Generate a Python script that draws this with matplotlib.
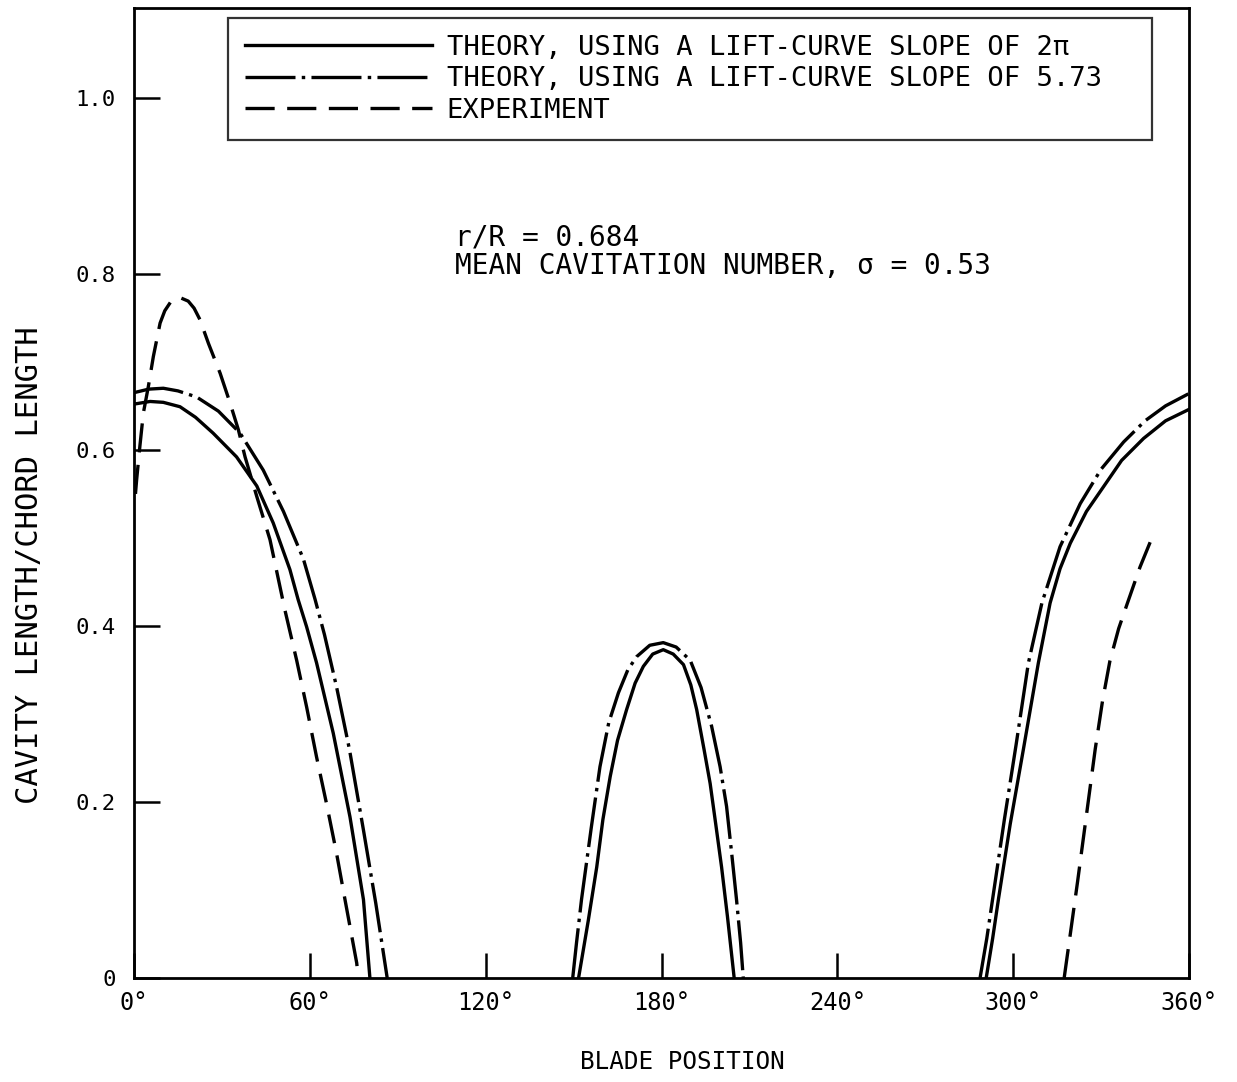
import matplotlib
matplotlib.use("Agg")
import matplotlib.pyplot as plt

# ---------------- data ----------------
# Theory, lift-curve slope 2*pi (solid)
solid_a_deg = [0, 5.5, 10, 15.7, 21, 27, 35, 41.9, 47.5, 53.2, 56, 58.9, 62.3, 68, 73.7, 78.3, 80.5]
solid_a_val = [0.652, 0.655, 0.654, 0.649, 0.637, 0.619, 0.592, 0.559, 0.517, 0.464, 0.43, 0.399, 0.358, 0.278, 0.183, 0.089, 0.0]
solid_b_deg = [151.7, 155, 157.9, 160, 162.5, 165, 168.1, 171, 173.8, 177, 180.6, 184, 187.5, 190, 192, 194.5, 196.6, 198.5, 200.5, 202.5, 204.8]
solid_b_val = [0.0, 0.065, 0.126, 0.18, 0.229, 0.27, 0.305, 0.335, 0.354, 0.368, 0.373, 0.368, 0.356, 0.333, 0.305, 0.26, 0.221, 0.175, 0.126, 0.07, 0.0]
solid_c_deg = [290.8, 293, 295, 299, 303.5, 308.6, 312.6, 316, 319.5, 325, 330.8, 337, 344.5, 352, 360]
solid_c_val = [0.0, 0.045, 0.09, 0.175, 0.26, 0.358, 0.426, 0.465, 0.494, 0.53, 0.558, 0.588, 0.613, 0.633, 0.646]

# Theory, lift-curve slope 5.73 (dash-dot)
dd_a_deg = [0, 5, 10, 15, 21.4, 28.8, 36.2, 44.1, 51, 57.8, 61.8, 65, 69.1, 73.5, 78.3, 82.5, 86.4]
dd_a_val = [0.665, 0.669, 0.67, 0.667, 0.66, 0.644, 0.619, 0.577, 0.53, 0.476, 0.43, 0.39, 0.331, 0.26, 0.168, 0.085, 0.0]
dd_b_deg = [149.7, 151, 152.7, 156, 159, 162, 165.3, 168.5, 171.5, 176, 180.6, 185, 189.8, 193.5, 197.1, 200, 202.2, 204, 205.6, 207, 207.9]
dd_b_val = [0.0, 0.04, 0.089, 0.17, 0.24, 0.29, 0.324, 0.35, 0.365, 0.378, 0.381, 0.376, 0.361, 0.33, 0.286, 0.24, 0.195, 0.14, 0.089, 0.04, 0.0]
dd_c_deg = [288.7, 291, 293, 297, 301, 305.2, 309.8, 316, 322.9, 330, 337.7, 345, 352, 360]
dd_c_val = [0.0, 0.045, 0.09, 0.18, 0.265, 0.358, 0.426, 0.49, 0.539, 0.578, 0.609, 0.633, 0.65, 0.664]

# Experiment (dashed)
exp_a_deg = [0.5, 0.9, 2, 3.2, 4.9, 6.6, 8.9, 10.5, 12.5, 15.7, 18.5, 20.5, 22.5, 25.4, 29.4, 32.8, 35.6, 37.9, 41.9, 46.4, 51.5, 55.5, 58.9, 62.3, 65.7, 69.1, 72, 76, 76.5]
exp_a_val = [0.55, 0.566, 0.604, 0.642, 0.672, 0.706, 0.744, 0.758, 0.768, 0.773, 0.769, 0.761, 0.748, 0.721, 0.687, 0.653, 0.623, 0.592, 0.547, 0.498, 0.418, 0.361, 0.308, 0.251, 0.198, 0.142, 0.089, 0.017, 0.0]
exp_c_deg = [317.4, 319.5, 322, 325, 328, 330.5, 333, 336, 339, 343.3, 347.1]
exp_c_val = [0.0, 0.05, 0.11, 0.185, 0.26, 0.315, 0.36, 0.397, 0.426, 0.467, 0.498]

x_ticks = [0, 60, 120, 180, 240, 300, 360]
x_tick_labels = ["0°", "60°", "120°", "180°", "240°", "300°", "360°"]
y_ticks = [0, 0.2, 0.4, 0.6, 0.8, 1.0]
y_tick_labels = ["0", "0.2", "0.4", "0.6", "0.8", "1.0"]

label_solid = "THEORY, USING A LIFT-CURVE SLOPE OF 2π"
label_dd = "THEORY, USING A LIFT-CURVE SLOPE OF 5.73"
label_exp = "EXPERIMENT"

MONO = "DejaVu Sans Mono"

# ---------------- figure ----------------
plt.rcParams["lines.scale_dashes"] = False
fig = plt.figure(figsize=(12.37, 10.82), dpi=100)
ax = fig.add_axes([134 / 1237, 1 - 978 / 1082, (1189 - 134) / 1237, (978 - 8) / 1082])

lw = 2.4
solid_kw = dict(color="black", lw=lw, linestyle="-")
dd_kw = dict(color="black", lw=lw, linestyle=(0, (36, 4.5, 2.5, 4.5)))
exp_kw = dict(color="black", lw=lw, linestyle=(0, (21, 9)))

ax.plot(solid_a_deg, solid_a_val, label=label_solid, **solid_kw)
ax.plot(solid_b_deg, solid_b_val, **solid_kw)
ax.plot(solid_c_deg, solid_c_val, **solid_kw)
ax.plot(dd_a_deg, dd_a_val, label=label_dd, **dd_kw)
ax.plot(dd_b_deg, dd_b_val, **dd_kw)
ax.plot(dd_c_deg, dd_c_val, **dd_kw)
ax.plot(exp_a_deg, exp_a_val, label=label_exp, **exp_kw)
ax.plot(exp_c_deg, exp_c_val, **exp_kw)

ax.set_xlim(0, 360)
ax.set_ylim(0, 1.102)
for s in ax.spines.values():
    s.set_linewidth(2)

ax.set_xticks(x_ticks)
ax.set_xticklabels(x_tick_labels, fontsize=17, family=MONO)
ax.set_yticks(y_ticks)
ax.set_yticklabels(y_tick_labels, fontsize=16, family=MONO)
ax.tick_params(axis="x", direction="in", length=18, width=1.8, pad=9)
ax.tick_params(axis="y", direction="in", length=19, width=1.8, pad=13)

ax.set_xlabel("BLADE POSITION", fontsize=17.5, family=MONO)
ax.xaxis.set_label_coords((682 - 134) / 1055, -(1050 - 978) / 970)
ax.set_ylabel("CAVITY LENGTH/CHORD LENGTH", fontsize=22, family=MONO)
ax.yaxis.set_label_coords((44 - 134) / 1055, (978 - 565) / 970)

leg_x0 = (228 - 134) / 1055
leg_y1 = (978 - 18) / 970
leg_w = (1152 - 228) / 1055
leg = ax.legend(loc="upper left", bbox_to_anchor=(leg_x0, leg_y1 - 0.2, leg_w, 0.2),
                mode="expand", borderaxespad=0, prop={"family": MONO, "size": 19.5},
                handlelength=6.9, handletextpad=0.55, labelspacing=0.2, borderpad=0.62,
                fancybox=False, frameon=True)
leg.get_frame().set_edgecolor("black")
leg.get_frame().set_linewidth(1.6)

ax.text((455 - 134) / 1055, (978 - 237) / 970, "r/R = 0.684", transform=ax.transAxes,
        fontsize=20, family=MONO, va="center", ha="left")
ax.text((455 - 134) / 1055, (978 - 266) / 970, "MEAN CAVITATION NUMBER, σ = 0.53",
        transform=ax.transAxes, fontsize=20, family=MONO, va="center", ha="left")

fig.savefig("out.png", dpi=100)
